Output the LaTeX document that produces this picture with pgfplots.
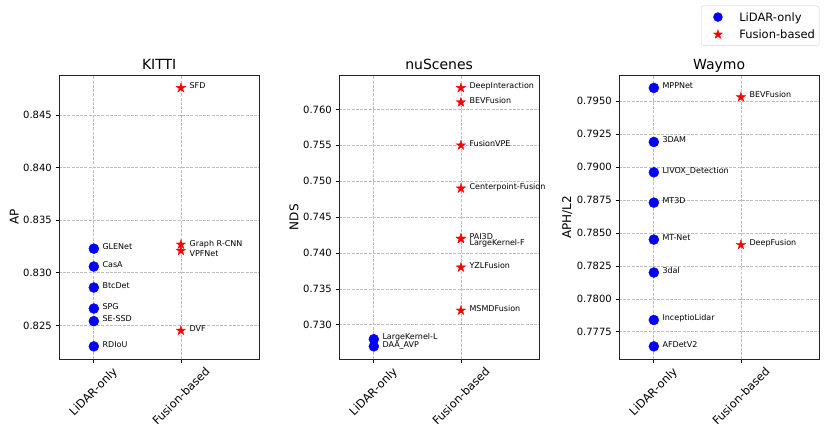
\documentclass[border=0pt]{standalone}
\usepackage{fontspec}
\setmainfont{DejaVu Sans}
\usepackage{graphicx}
\usepackage{pgfplots}
\pgfplotsset{compat=1.18}

\pgfdeclareplotmark{fstar}{%
  \pgfpathmoveto{\pgfpointpolar{90}{\pgfplotmarksize}}%
  \pgfpathlineto{\pgfpointpolar{126}{0.382\pgfplotmarksize}}%
  \pgfpathlineto{\pgfpointpolar{162}{\pgfplotmarksize}}%
  \pgfpathlineto{\pgfpointpolar{198}{0.382\pgfplotmarksize}}%
  \pgfpathlineto{\pgfpointpolar{234}{\pgfplotmarksize}}%
  \pgfpathlineto{\pgfpointpolar{270}{0.382\pgfplotmarksize}}%
  \pgfpathlineto{\pgfpointpolar{306}{\pgfplotmarksize}}%
  \pgfpathlineto{\pgfpointpolar{342}{0.382\pgfplotmarksize}}%
  \pgfpathlineto{\pgfpointpolar{18}{\pgfplotmarksize}}%
  \pgfpathlineto{\pgfpointpolar{54}{0.382\pgfplotmarksize}}%
  \pgfpathclose
  \pgfusepathqfillstroke
}

\pgfplotsset{
  panel/.style={
    scale only axis, width=200.3bp, height=284.3bp, anchor=south west,
    xmin=-0.4, xmax=1.9, clip=false,
    xtick={0,1},
    xticklabels={\rotatebox{45}{LiDAR-only},\rotatebox{45}{Fusion-based}},
    tick align=outside, tick pos=left, major tick length=3.5bp,
    tick style={line width=0.8bp, black},
    axis line style={line width=0.8bp, black!85},
    grid=major,
    grid style={line width=0.8bp, black!25, dash pattern=on 2.96bp off 1.28bp},
    yticklabel style={font=\fontsize{10bp}{12bp}\selectfont, anchor=east, inner sep=0pt, xshift=-3.5bp},
    xticklabel style={font=\fontsize{11.4bp}{13bp}\selectfont, anchor=north, inner sep=0pt, yshift=-3.5bp},
    scaled y ticks=false,
    ylabel style={font=\fontsize{12bp}{14bp}\selectfont, yshift=1bp},
    title style={font=\fontsize{14bp}{16bp}\selectfont, at={(0.5,1)}, anchor=base, yshift=-0.3bp},
  },
  lab/.style={point meta=explicit symbolic, nodes near coords,
    every node near coord/.append style={anchor=base west, inner sep=0pt, text=black,
      xshift=8.5bp, yshift=-0.8bp, font=\fontsize{8bp}{9.6bp}\selectfont}},
  lidar/.style={only marks, mark=*, mark size=5bp, color=blue, forget plot, lab},
  fusion/.style={only marks, mark=fstar, mark size=5bp, color=red,
    mark options={line width=0.3bp}, forget plot, lab},
  down/.style={every node near coord/.append style={yshift=-#1}},
}

\begin{document}
\begin{tikzpicture}
\useasboundingbox[fill=white] (0bp,0bp) rectangle (830bp,428bp);

\begin{axis}[panel, at={(59bp,68.7bp)}, title={KITTI}, ylabel={AP},
  ymin=0.82177, ymax=0.84883,
  ytick={0.825,0.830,0.835,0.840,0.845},
  yticklabels={0.825,0.830,0.835,0.840,0.845}]
\addplot[lidar] coordinates {(0,0.8323)[GLENet] (0,0.8306)[CasA] (0,0.8286)[BtcDet] (0,0.8266)[SPG] (0,0.8254)[SE-SSD] (0,0.8230)[RDIoU]};
\addplot[fusion] coordinates {(1,0.8476)[SFD] (1,0.8245)[DVF]};
\addplot[fusion, down=1.2bp] coordinates {(1,0.8327)[Graph R-CNN]};
\addplot[fusion, down=4.6bp] coordinates {(1,0.8321)[VPFNet]};
\end{axis}

\begin{axis}[panel, at={(339bp,68.7bp)}, title={nuScenes}, ylabel={NDS},
  ymin=0.7252, ymax=0.7648,
  ytick={0.730,0.735,0.740,0.745,0.750,0.755,0.760},
  yticklabels={0.730,0.735,0.740,0.745,0.750,0.755,0.760}]
\addplot[lidar] coordinates {(0,0.728)[LargeKernel-L] (0,0.727)[DAA\_AVP]};
\addplot[fusion] coordinates {(1,0.763)[DeepInteraction] (1,0.761)[BEVFusion] (1,0.755)[FusionVPE] (1,0.749)[Centerpoint-Fusion] (1,0.742)[PAI3D] (1,0.738)[YZLFusion] (1,0.732)[MSMDFusion]};
\addplot[fusion, down=5.8bp] coordinates {(1,0.742)[LargeKernel-F]};
\end{axis}

\begin{axis}[panel, at={(619bp,68.7bp)}, title={Waymo}, ylabel={APH/L2},
  ymin=0.77542, ymax=0.79698,
  ytick={0.7775,0.7800,0.7825,0.7850,0.7875,0.7900,0.7925,0.7950},
  yticklabels={0.7775,0.7800,0.7825,0.7850,0.7875,0.7900,0.7925,0.7950},
  legend style={at={(1,1)}, anchor=north east, yshift=69.3bp,
    draw=black!18, fill=white, rounded corners=2.5bp,
    font=\fontsize{11.5bp}{13.8bp}\selectfont,
    inner xsep=4.2bp, inner ysep=4bp, row sep=3.1bp, column sep=10.6bp,
    nodes={inner sep=0pt, text height=11.5bp, text depth=2.8bp}},
  legend cell align=left,
  legend image code/.code={\path[draw=none,fill=none] (0bp,-4bp) rectangle (23.2bp,4bp); \draw[#1] plot coordinates {(12.5bp,0bp)};}]
\addlegendimage{only marks, mark=*, mark size=4.5bp, color=blue}
\addlegendentry{LiDAR-only}
\addlegendimage{only marks, mark=fstar, mark size=4.8bp, color=red, mark options={line width=0.3bp}}
\addlegendentry{Fusion-based}
\addplot[lidar] coordinates {(0,0.7960)[MPPNet] (0,0.7919)[3DAM] (0,0.7896)[LIVOX\_Detection] (0,0.7873)[MT3D] (0,0.7845)[MT-Net] (0,0.7820)[3dal] (0,0.7784)[InceptioLidar] (0,0.7764)[AFDetV2]};
\addplot[fusion] coordinates {(1,0.7953)[BEVFusion] (1,0.7841)[DeepFusion]};
\end{axis}
\end{tikzpicture}
\end{document}
